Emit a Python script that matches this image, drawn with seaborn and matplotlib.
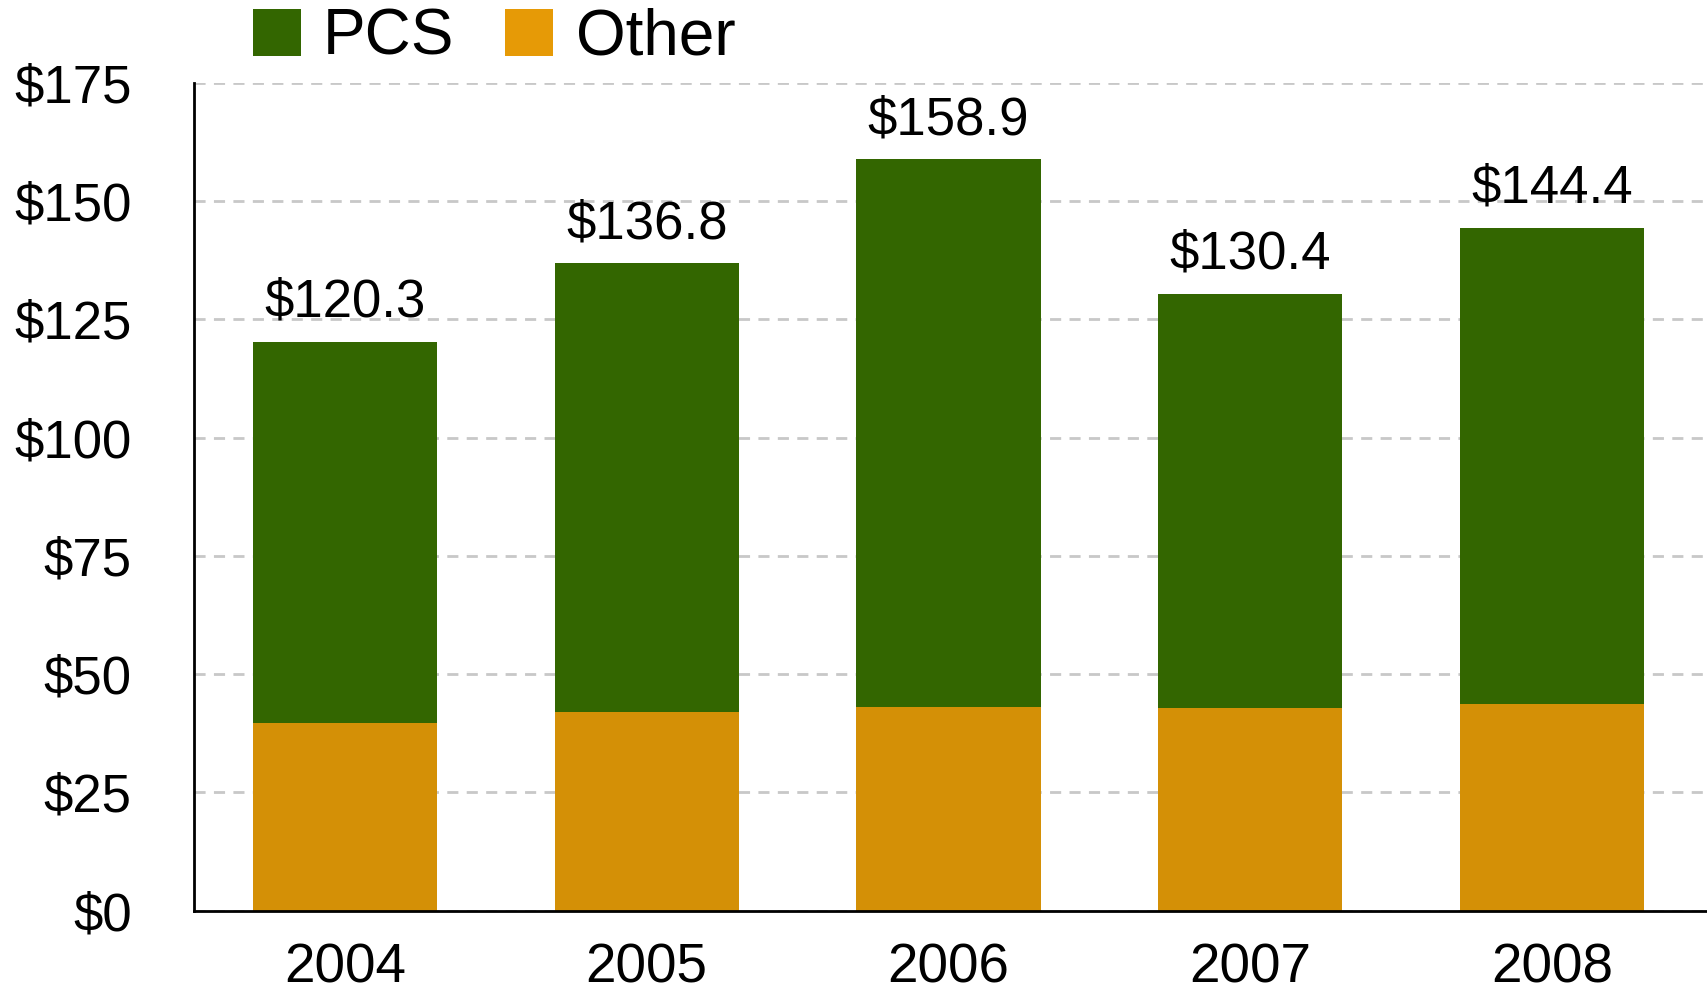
import matplotlib
matplotlib.use("Agg")
import matplotlib.pyplot as plt
import seaborn as sns
import pandas as pd
from matplotlib.patches import Patch

years = ["2004", "2005", "2006", "2007", "2008"]
totals = [120.3, 136.8, 158.9, 130.4, 144.4]
other = [39.6, 41.9, 43.1, 42.8, 43.7]
pcs = [round(t - o, 1) for t, o in zip(totals, other)]
y_ticks = [0, 25, 50, 75, 100, 125, 150, 175]

green = "#336600"
orange = "#d49006"
orange_key = "#e69a06"

sns.set_theme(style="white")
plt.rcParams["font.family"] = ["Liberation Sans", "DejaVu Sans"]
plt.rcParams["text.color"] = "black"

df = pd.DataFrame({"year": years, "PCS": pcs, "Other": other})
df["total"] = df["PCS"] + df["Other"]

fig = plt.figure(figsize=(17.08, 9.96), dpi=100)
ax = fig.add_axes([0.1136, 0.0857, 0.8852, 0.8312])

# full stack height in green, then the Other segment over its lower part
sns.barplot(data=df, x="year", y="total", color=green, saturation=1,
            width=0.61, ax=ax, zorder=3, linewidth=0, edgecolor="none")
sns.barplot(data=df, x="year", y="Other", color=orange, saturation=1,
            width=0.61, ax=ax, zorder=4, linewidth=0, edgecolor="none")

ax.set_xlim(-0.5, 4.51)
ax.set_ylim(0, 175)
ax.set_yticks(y_ticks)
ax.set_yticklabels([f"${v}" for v in y_ticks])
ax.set_xlabel("")
ax.set_ylabel("")

ax.yaxis.grid(True, color="#c8c8c8", linestyle=(0, (4, 3)), linewidth=2, zorder=0)
ax.set_axisbelow(True)

for s in ["top", "right"]:
    ax.spines[s].set_visible(False)
for s in ["left", "bottom"]:
    ax.spines[s].set_color("black")
    ax.spines[s].set_linewidth(2)
    ax.spines[s].set_zorder(6)

ax.tick_params(axis="y", length=0, pad=45, labelsize=38, labelcolor="black")
ax.tick_params(axis="x", length=0, pad=23, labelsize=39.5, labelcolor="black")

for i, t in enumerate(df["total"]):
    ax.annotate(f"${t:.1f}", xy=(i, t), xytext=(0, 10), textcoords="offset points",
                ha="center", va="bottom", fontsize=38, color="black", zorder=7)

handles = [Patch(facecolor=green, edgecolor="none", label="PCS"),
           Patch(facecolor=orange_key, edgecolor="none", label="Other")]
leg = fig.legend(handles=handles, loc="upper left", bbox_to_anchor=(0.133, 1.018),
                 ncol=2, frameon=False, fontsize=46, handlelength=0.75, handleheight=0.75,
                 handletextpad=0.35, columnspacing=0.8, borderaxespad=0)
for txt in leg.get_texts():
    txt.set_color("black")

fig.savefig("out.png", dpi=100)
